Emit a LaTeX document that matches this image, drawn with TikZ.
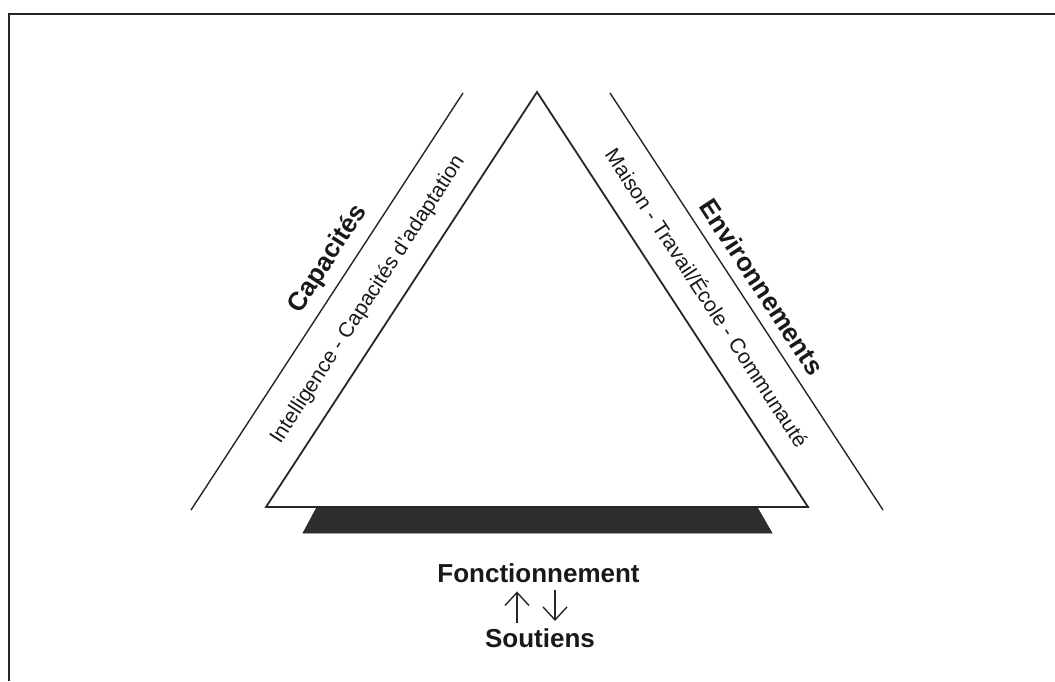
\documentclass[tikz,border=0pt]{standalone}
\usepackage{fontspec}
\setmainfont{Liberation Sans}
\usetikzlibrary{arrows.meta}
\begin{document}
\begin{tikzpicture}[x=1pt,y=-1pt,
  frameline/.style={line width=2.2pt, draw=black!85},
  sideline/.style={line width=1.4pt, draw=black!85},
  triline/.style={line width=1.8pt, draw=black!85, fill=white, line join=miter},
  basebar/.style={fill=black!82, draw=black!85, line width=0.6pt},
  bigtxt/.style={font=\bfseries\fontsize{26}{30}\selectfont, inner sep=0pt, text=black!90},
  smalltxt/.style={font=\fontsize{21}{25}\selectfont, inner sep=0pt, text=black!90},
  arr/.style={line width=1.4pt, draw=black!85, -{Straight Barb[length=13pt,width=24pt,line width=1.4pt]}}
]
\useasboundingbox (0,0) rectangle (1055,681);
% frame
\draw[frameline] (9,681) -- (9,14) -- (1055,14);
% parallel lines
\draw[sideline] (191,510) -- (463,93);
\draw[sideline] (610,93) -- (883,510);
% base bar
\draw[basebar] (317,507) -- (757,507) -- (772,533) -- (303,533) -- cycle;
% triangle
\draw[triline] (537,92) -- (808,507) -- (266,507) -- cycle;
% side texts
\node[bigtxt, rotate=56.98] (cap) at (328,259) {Capacités};
\node[smalltxt, rotate=56.98] (intel) at (368,300) {Intelligence - Capacités d'adaptation};
\node[bigtxt, rotate=-56.8] (env) at (762,287) {Environnements};
\node[smalltxt, rotate=-56.8] (mais) at (708,297) {Maison - Travail/École - Communauté};
% bottom texts
\node[bigtxt, anchor=base] (fonct) at (538.5,582) {Fonctionnement};
\node[bigtxt, anchor=base] (sout) at (540,647) {Soutiens};
\draw[arr, shorten <=5pt, shorten >=9pt] ([xshift=-23pt]sout.north) -- ([xshift=-23pt]sout.north |- fonct.south);
\draw[arr, shorten <=8pt, shorten >=7pt] ([xshift=16.5pt]fonct.south) -- ([xshift=16.5pt]fonct.south |- sout.north);
\end{tikzpicture}
\end{document}
